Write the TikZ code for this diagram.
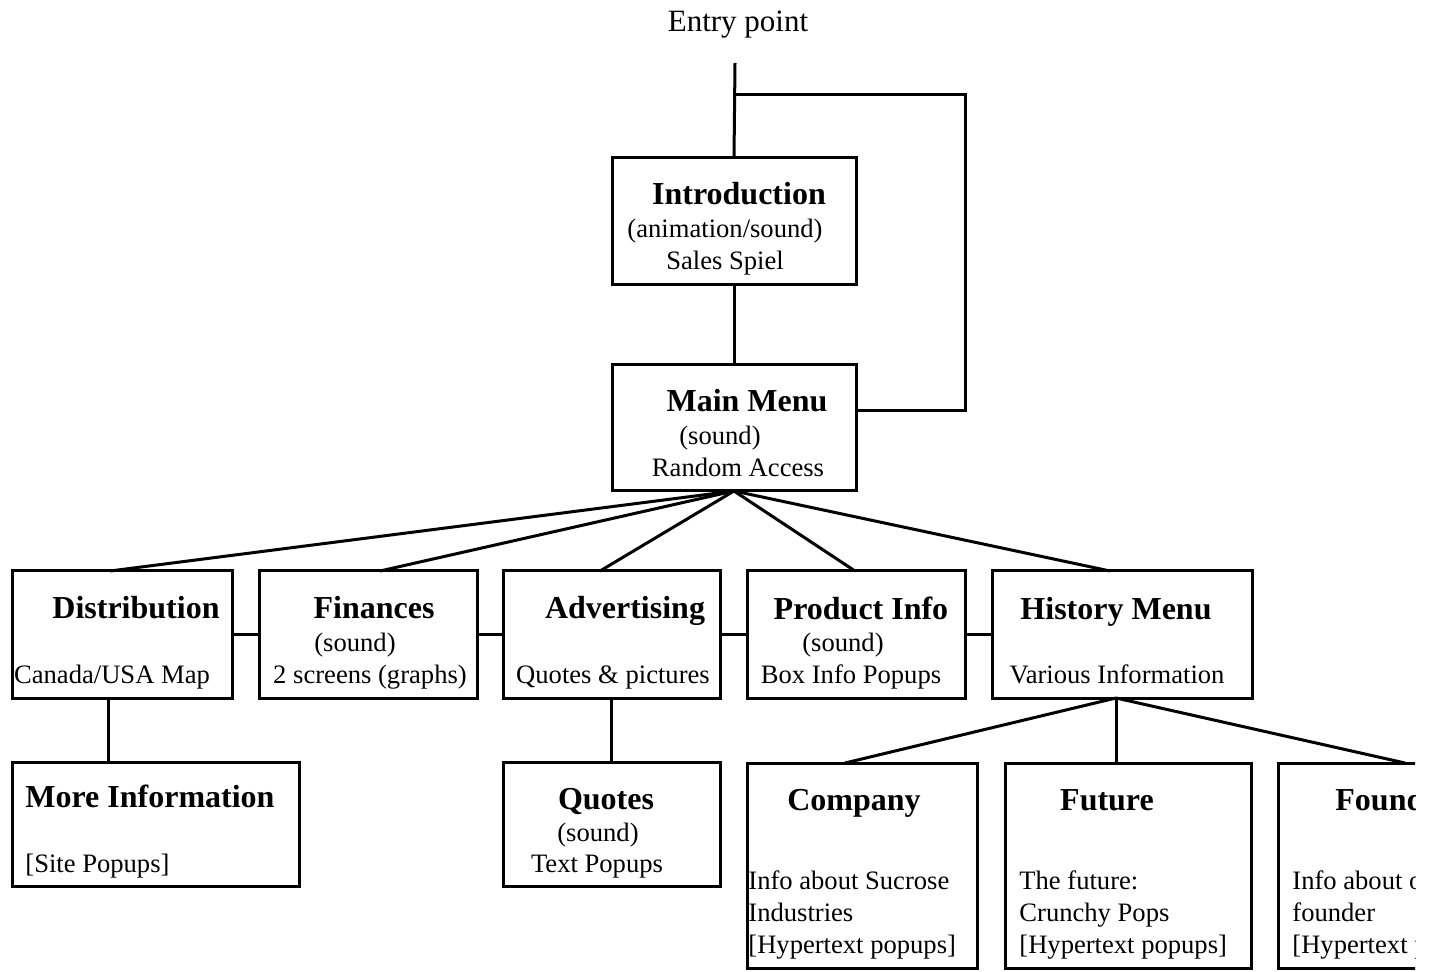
\documentclass[tikz,border=0pt]{standalone}
\usepackage{fontspec}
\setmainfont{Liberation Serif}
\usetikzlibrary{fit,calc}
\tikzset{
  box/.style={draw, line width=1.5pt, inner sep=0pt, outer sep=0pt},
  conn/.style={line width=1.5pt},
  ttl/.style={inner sep=0pt, font=\fontsize{16}{18}\selectfont\bfseries},
  txt/.style={inner sep=0pt, font=\fontsize{13.3}{16}\selectfont},
}
\begin{document}
\begin{tikzpicture}[x=0.5pt,y=-0.5pt]
\useasboundingbox (0,0) rectangle (1429,972);
\clip (0,0) rectangle (1415,972);
% boxes
\node[box, fit={(612,158) (856,285)}] (intro) {};
\node[box, fit={(612,365) (856,491)}] (mm) {};
\node[box, fit={(12,571) (232,698)}] (dist) {};
\node[box, fit={(259,571) (477,698)}] (fin) {};
\node[box, fit={(503,571) (720,698)}] (adv) {};
\node[box, fit={(747,571) (965,698)}] (prod) {};
\node[box, fit={(992,571) (1252,698)}] (hist) {};
\node[box, fit={(12,762) (299,886)}] (more) {};
\node[box, fit={(503,762) (720,886)}] (quotes) {};
\node[box, fit={(747,763) (977,968)}] (comp) {};
\node[box, fit={(1005,763) (1251,968)}] (fut) {};
\node[box, fit={(1278,763) (1500,968)}] (found) {};
% entry and loop
\node[txt, anchor=base, font=\fontsize{15.5}{18}\selectfont] (entrytxt) at (738,32) {Entry point};
\coordinate (entry) at (735,63);
\coordinate (j) at (735,95);
\coordinate (loopc) at (965,95);
\draw[conn] (entry) -- (intro.north);
\draw[conn] (j) -- (loopc) |- ($(mm.east)+(0,-17)$);
\draw[conn] (intro.south) -- (mm.north);
% fan from main menu
\draw[conn] (mm.south) -- ($(dist.north west)+(98,0)$);
\draw[conn] (mm.south) -- ($(fin.north west)+(121,0)$);
\draw[conn] (mm.south) -- ($(adv.north west)+(97,0)$);
\draw[conn] (mm.south) -- ($(prod.north west)+(108,0)$);
\draw[conn] (mm.south) -- ($(hist.north west)+(118,0)$);
% row links
\draw[conn] (dist.east) -- (fin.west);
\draw[conn] (fin.east) -- (adv.west);
\draw[conn] (adv.east) -- (prod.west);
\draw[conn] (prod.east) -- (hist.west);
% down links
\draw[conn] ($(dist.south west)+(96,0)$) -- ($(more.north west)+(96,0)$);
\draw[conn] (adv.south) -- (quotes.north);
\draw[conn] ($(hist.south west)+(124,0)$) -- ($(comp.north west)+(98,0)$);
\draw[conn] ($(hist.south west)+(124,0)$) -- ($(fut.north west)+(111,0)$);
\draw[conn] ($(hist.south west)+(124,0)$) -- ($(found.north west)+(127,0)$);
% texts
\node[ttl, anchor=base] (t1) at (739,205) {Introduction};
\node[txt, anchor=base] (t2) at (725,238) {(animation/sound)};
\node[txt, anchor=base] (t3) at (725,270) {Sales Spiel};
\node[ttl, anchor=base] (t4) at (747,412) {Main Menu};
\node[txt, anchor=base] (t5) at (720,445) {(sound)};
\node[txt, anchor=base] (t6) at (738,477) {Random Access};
\node[ttl, anchor=base] (t7) at (136,618) {Distribution};
\node[txt, anchor=base] (t8) at (112,683) {Canada/USA Map};
\node[ttl, anchor=base] (t9) at (374,618) {Finances};
\node[txt, anchor=base] (t10) at (355,651) {(sound)};
\node[txt, anchor=base] (t11) at (370,683) {2 screens (graphs)};
\node[ttl, anchor=base] (t12) at (625,618) {Advertising};
\node[txt, anchor=base] (t13) at (613,683) {Quotes \& pictures};
\node[ttl, anchor=base] (t14) at (861,619) {Product Info};
\node[txt, anchor=base] (t15) at (843,651) {(sound)};
\node[txt, anchor=base] (t16) at (851,683) {Box Info Popups};
\node[ttl, anchor=base] (t17) at (1116,619) {History Menu};
\node[txt, anchor=base] (t18) at (1117,683) {Various Information};
\node[ttl, anchor=base west] (t19) at (25,807) {More Information};
\node[txt, anchor=base west] (t20) at (25,872) {[Site Popups]};
\node[ttl, anchor=base] (t21) at (606,809) {Quotes};
\node[txt, anchor=base] (t22) at (598,841) {(sound)};
\node[txt, anchor=base] (t23) at (597,872) {Text Popups};
\node[ttl, anchor=base] (t24) at (854,810) {Company};
\node[txt, anchor=base west] (t25) at (748,889) {Info about Sucrose};
\node[txt, anchor=base west] (t26) at (748,921) {Industries};
\node[txt, anchor=base west] (t27) at (748,953) {[Hypertext popups]};
\node[ttl, anchor=base] (t28) at (1107,810) {Future};
\node[txt, anchor=base west] (t29) at (1019,889) {The future:};
\node[txt, anchor=base west] (t30) at (1019,921) {Crunchy Pops};
\node[txt, anchor=base west] (t31) at (1019,953) {[Hypertext popups]};
\node[ttl, anchor=base west] (t32) at (1335,810) {Founder};
\node[txt, anchor=base west] (t33) at (1292,889) {Info about our};
\node[txt, anchor=base west] (t34) at (1292,921) {founder};
\node[txt, anchor=base west] (t35) at (1292,953) {[Hypertext popups]};
\end{tikzpicture}
\end{document}
